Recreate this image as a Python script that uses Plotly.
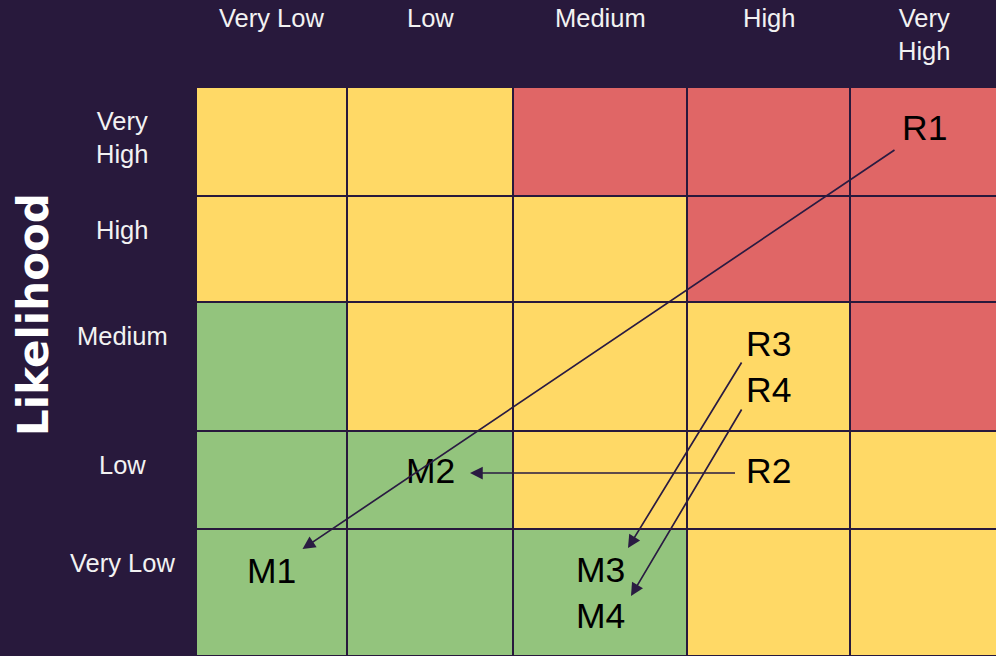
import numpy as np
import plotly.graph_objects as go

# ---------------- data ----------------
IMPACT = ["Very Low", "Low", "Medium", "High", "Very High"]
LIKELIHOOD = ["Very High", "High", "Medium", "Low", "Very Low"]   # top to bottom
IMPACT_TICKS = ["Very Low", "Low", "Medium", "High", "Very<br>High"]
LIKELIHOOD_TICKS = ["Very<br>High", "High", "Medium", "Low", "Very Low"]
AXIS_TITLE = "Likelihood"

# 0 = green, 1 = yellow, 2 = red ; rows follow LIKELIHOOD, columns follow IMPACT
RISK_LEVEL = [
    [1, 1, 2, 2, 2],
    [1, 1, 1, 2, 2],
    [0, 1, 1, 1, 2],
    [0, 0, 1, 1, 1],
    [0, 0, 0, 1, 1],
]

RISK_IDS = ["R1", "R2", "R3", "R4"]
RISK_IMPACT = ["Very High", "High", "High", "High"]
RISK_LIKELIHOOD = ["Very High", "Low", "Medium", "Medium"]

MITIGATED_IDS = ["M1", "M2", "M3", "M4"]
MITIGATED_IMPACT = ["Very Low", "Low", "Medium", "Medium"]
MITIGATED_LIKELIHOOD = ["Very Low", "Low", "Very Low", "Very Low"]

# ---------------- layout / style ----------------
W, H = 996, 656
LEFT, TOP = 196, 87
COL_WIDTHS = [151, 166, 174, 163, 148]
ROW_HEIGHTS = [109, 106, 129, 98, 127]
BG = "#28193c"
GREEN, YELLOW, RED = "#93c47d", "#ffd966", "#e06666"
TEXT_FONT = "Liberation Sans, Arial, sans-serif"
LINE_H = 45
ITEM_FONT = 35.5
TICK_FONT = 25.5
# per-cell vertical nudge of the item labels (px)
CELL_DY = {("Very High", "Very High"): -13.5, ("High", "Low"): -9,
           ("Low", "Low"): -9, ("Very Low", "Very Low"): -21.5}
# arrow tail / head offsets from the label centres (px)
TAIL_OFF = [(-28, 21), (-32, 2), (-26, 17), (-26, 19)]
HEAD_OFF = [(31, -22), (40, 2), (28, -22), (31, -19)]

col_edges = np.concatenate([[0], np.cumsum(COL_WIDTHS)])
row_edges = np.concatenate([[0], np.cumsum(ROW_HEIGHTS)])
col_c = (col_edges[:-1] + col_edges[1:]) / 2
row_c = (row_edges[:-1] + row_edges[1:]) / 2

fig = go.Figure()
fig.add_trace(go.Heatmap(
    z=RISK_LEVEL, x=col_edges, y=row_edges,
    colorscale=[[0, GREEN], [0.5, YELLOW], [1, RED]], zmin=0, zmax=2,
    showscale=False, xgap=2, ygap=2, hoverinfo="skip",
))

ann = []
# column labels (top)
for i, t in enumerate(IMPACT_TICKS):
    ann.append(dict(x=col_c[i], y=-TOP + 2, xref="x", yref="y", text=t,
                    showarrow=False, yanchor="top", xanchor="center",
                    font=dict(family=TEXT_FONT, size=TICK_FONT, color="#f2f2f2")))
# row labels (left)
for j, t in enumerate(LIKELIHOOD_TICKS):
    ann.append(dict(x=122 - LEFT, y=row_edges[j] + 18, xref="x", yref="y", text=t,
                    showarrow=False, yanchor="top", xanchor="center",
                    font=dict(family=TEXT_FONT, size=TICK_FONT, color="#f2f2f2")))
# axis title
ann.append(dict(x=33 - LEFT, y=315 - TOP, xref="x", yref="y", text="<b>%s</b>" % AXIS_TITLE,
                showarrow=False, textangle=-90, xanchor="center", yanchor="middle",
                font=dict(family="DejaVu Sans, sans-serif", size=42, color="white")))

# item labels grouped by cell
def group(ids, imp, lik):
    cells = {}
    for k, (i, l) in enumerate(zip(imp, lik)):
        cells.setdefault((i, l), []).append(ids[k])
    pos = {}
    for (i, l), lst in cells.items():
        cx = col_c[IMPACT.index(i)]
        cy = row_c[LIKELIHOOD.index(l)] + CELL_DY.get((i, l), 0)
        ann.append(dict(x=cx, y=cy, xref="x", yref="y", text="<br>".join(lst),
                        showarrow=False, xanchor="center", yanchor="middle",
                        font=dict(family=TEXT_FONT, size=ITEM_FONT, color="black")))
        n = len(lst)
        for m, name in enumerate(lst):
            pos[name] = (cx, cy + (m - (n - 1) / 2) * LINE_H)
    return pos

rpos = group(RISK_IDS, RISK_IMPACT, RISK_LIKELIHOOD)
mpos = group(MITIGATED_IDS, MITIGATED_IMPACT, MITIGATED_LIKELIHOOD)

for k, (r, m) in enumerate(zip(RISK_IDS, MITIGATED_IDS)):
    tx, ty = rpos[r][0] + TAIL_OFF[k][0], rpos[r][1] + TAIL_OFF[k][1]
    hx, hy = mpos[m][0] + HEAD_OFF[k][0], mpos[m][1] + HEAD_OFF[k][1]
    ann.append(dict(x=hx, y=hy, ax=tx, ay=ty, xref="x", yref="y", axref="x", ayref="y",
                    text="", showarrow=True, arrowhead=2, arrowsize=1.5, arrowwidth=1.7,
                    arrowcolor="#2a1b42", standoff=0, startstandoff=0))

fig.update_layout(
    width=W, height=H, margin=dict(l=0, r=0, t=0, b=0),
    paper_bgcolor=BG, plot_bgcolor=BG, showlegend=False,
    xaxis=dict(range=[-LEFT, W - LEFT], visible=False, showgrid=False, zeroline=False, fixedrange=True),
    yaxis=dict(range=[H - TOP, -TOP], visible=False, showgrid=False, zeroline=False, fixedrange=True),
    annotations=ann,
)
fig.write_html("out.html", config={"displayModeBar": False},
               post_script="document.body.style.margin='0';document.body.style.background='%s';" % BG)
